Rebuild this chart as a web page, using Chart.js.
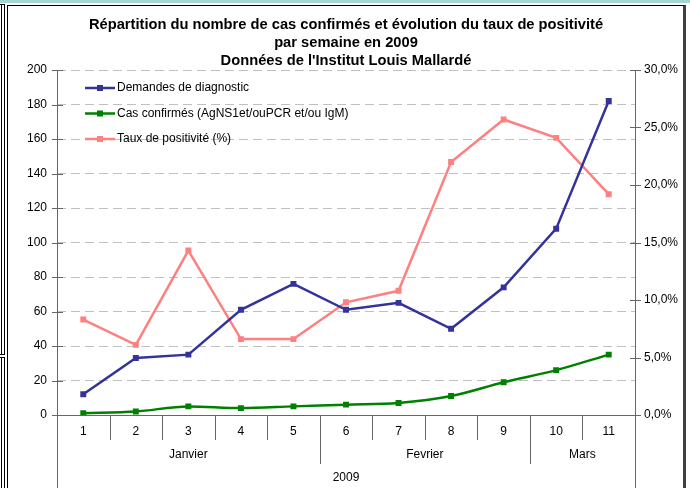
<!DOCTYPE html>
<html>
<head>
<meta charset="utf-8">
<script src="https://cdn.jsdelivr.net/npm/chart.js@4"></script>
<style>
  body { margin: 0; background: #fff; }
  #wrap { position: relative; width: 690px; height: 488px; overflow: hidden; }
  canvas { position: absolute; left: 0; top: 0; }
  .deco { position: absolute; box-sizing: border-box; pointer-events: none; }
</style>
</head>
<body>
<div id="wrap">
  <canvas id="myChart" width="690" height="488"></canvas>
  <div class="deco" style="left:0;top:0;width:690px;height:3px;background:#a6d4d4"></div>
  <div class="deco" style="left:-10px;top:4px;width:15px;height:351px;border:1px solid #000"></div>
  <div class="deco" style="left:1px;top:5px;width:1px;height:349px;background:#000"></div>
  <div class="deco" style="left:-10px;top:357px;width:15px;height:200px;border:1px solid #000"></div>
  <div class="deco" style="left:1px;top:358px;width:1px;height:200px;background:#000"></div>
  <div class="deco" style="left:7px;top:5px;width:679px;height:600px;border-left:1px solid #000;border-top:1px solid #000;border-right:3px solid #404040"></div>
</div>
<script>
var titleLines = [
    "Répartition du nombre de cas confirmés et évolution du taux de positivité",
    "par semaine en 2009",
    "Données de l'Institut Louis Mallardé"
];
var weeks = ['1','2','3','4','5','6','7','8','9','10','11'];
var monthNames = ['Janvier','Fevrier','Mars'];
var monthSpans = [5,4,2];
var yearLabel = '2009';

var demandes = [12,33,35,61,76,61,65,50,74,108,182];
var confirmes = [1,2,5,4,5,6,7,11,19,26,35];
var taux = [8.3,6.1,14.3,6.6,6.6,9.8,10.8,22.0,25.7,24.1,19.2];

var FONT = '"Liberation Sans", Arial, sans-serif';
var AXIS = '#666666';

var titlePlugin = {
    id: 'titleLines',
    afterDraw: function(chart) {
        var ctx = chart.ctx;
        ctx.save();
        ctx.fillStyle = '#000';
        ctx.font = 'bold 14.7px ' + FONT;
        ctx.textAlign = 'center';
        ctx.textBaseline = 'alphabetic';
        var ys = [29, 47, 65];
        titleLines.forEach(function(t, i) { ctx.fillText(t, 346, ys[i]); });
        ctx.restore();
    }
};

var axesPlugin = {
    id: 'excelAxes',
    beforeDatasetsDraw: function(chart) {
        var ctx = chart.ctx, a = chart.chartArea;
        var x = chart.scales.x, y = chart.scales.y, y1 = chart.scales.y1;
        var H = chart.height;
        ctx.save();
        ctx.strokeStyle = AXIS;
        ctx.lineWidth = 1;
        ctx.beginPath();
        // vertical axes run to bottom of the category table
        ctx.moveTo(a.left + 0.5, a.top); ctx.lineTo(a.left + 0.5, H);
        ctx.moveTo(a.right + 0.5, a.top); ctx.lineTo(a.right + 0.5, H);
        // zero line
        ctx.moveTo(a.left, a.bottom + 0.5); ctx.lineTo(a.right + 5, a.bottom + 0.5);
        // tick marks crossing the axes
        y.ticks.forEach(function(t) {
            var py = Math.round(y.getPixelForValue(t.value)) + 0.5;
            ctx.moveTo(a.left - 5, py); ctx.lineTo(a.left + 6, py);
        });
        y1.ticks.forEach(function(t) {
            var py = Math.round(y1.getPixelForValue(t.value)) + 0.5;
            ctx.moveTo(a.right - 5, py); ctx.lineTo(a.right + 6, py);
        });
        // category separators
        var half = (x.getPixelForValue(1) - x.getPixelForValue(0)) / 2;
        var bounds = [], acc = 0;
        monthSpans.forEach(function(s) { acc += s; bounds.push(acc); });
        for (var k = 1; k < weeks.length; k++) {
            var px = Math.round(x.getPixelForValue(k) - half) + 0.5;
            var isMonth = bounds.indexOf(k) >= 0;
            ctx.moveTo(px, a.bottom); ctx.lineTo(px, isMonth ? a.bottom + 49 : a.bottom + 25);
        }
        ctx.stroke();

        // labels of the category table
        ctx.fillStyle = '#000';
        ctx.font = '12px ' + FONT;
        ctx.textAlign = 'center';
        ctx.textBaseline = 'middle';
        weeks.forEach(function(w, i) {
            ctx.fillText(w, x.getPixelForValue(i), a.bottom + 17);
        });
        var start = 0;
        monthNames.forEach(function(m, i) {
            var l = x.getPixelForValue(start) - half;
            var r = x.getPixelForValue(start + monthSpans[i] - 1) + half;
            ctx.fillText(m, (l + r) / 2, a.bottom + 40);
            start += monthSpans[i];
        });
        ctx.fillText(yearLabel, (a.left + a.right) / 2, a.bottom + 63);
        ctx.restore();
    }
};

var legendPlugin = {
    id: 'innerLegend',
    afterDraw: function(chart) {
        var ctx = chart.ctx, a = chart.chartArea;
        ctx.save();
        ctx.font = '12px ' + FONT;
        ctx.textBaseline = 'middle';
        ctx.textAlign = 'left';
        chart.data.datasets.forEach(function(ds, i) {
            var ly = a.top + 18 + i * 25.5;
            var lx = a.left + 28;
            ctx.strokeStyle = ds.borderColor;
            ctx.lineWidth = 2.5;
            ctx.beginPath();
            ctx.moveTo(lx, ly); ctx.lineTo(lx + 30, ly);
            ctx.stroke();
            ctx.fillStyle = ds.borderColor;
            ctx.fillRect(lx + 12, ly - 3, 6, 6);
            ctx.fillStyle = '#000';
            ctx.fillText(ds.label, lx + 32, ly);
        });
        ctx.restore();
    }
};

window.onload = function() {
    var ctx = document.getElementById('myChart').getContext('2d');
    window.myChart = new Chart(ctx, {
        type: 'line',
        data: {
            labels: weeks,
            datasets: [
                {
                    label: 'Demandes de diagnostic',
                    data: demandes,
                    yAxisID: 'y',
                    borderColor: '#333399',
                    backgroundColor: '#333399',
                    borderWidth: 2.5,
                    pointStyle: 'rect',
                    pointRadius: 4.2,
                    pointBorderWidth: 0,
                    tension: 0
                },
                {
                    label: 'Cas confirmés (AgNS1et/ouPCR et/ou IgM)',
                    data: confirmes,
                    yAxisID: 'y',
                    borderColor: '#008000',
                    backgroundColor: '#008000',
                    borderWidth: 2.5,
                    pointStyle: 'rect',
                    pointRadius: 4.2,
                    pointBorderWidth: 0,
                    cubicInterpolationMode: 'monotone'
                },
                {
                    label: 'Taux de positivité (%)',
                    data: taux,
                    yAxisID: 'y1',
                    borderColor: '#ff8080',
                    backgroundColor: '#ff8080',
                    borderWidth: 2.5,
                    pointStyle: 'rect',
                    pointRadius: 4.2,
                    pointBorderWidth: 0,
                    tension: 0
                }
            ]
        },
        options: {
            responsive: false,
            animation: false,
            layout: { padding: { top: 70, left: 0, right: 0, bottom: 0 } },
            plugins: {
                legend: { display: false },
                title: { display: false },
                tooltip: { enabled: false }
            },
            scales: {
                x: {
                    type: 'category',
                    offset: true,
                    grid: { display: false },
                    border: { display: false },
                    ticks: { display: false },
                    afterFit: function(s) { s.height = 73; }
                },
                y: {
                    position: 'left',
                    min: 0, max: 200,
                    ticks: { stepSize: 20, color: '#000', padding: 10, font: { size: 12, family: FONT } },
                    grid: { color: '#c0c0c0', drawTicks: false },
                    border: { display: false, dash: [9, 5] },
                    afterFit: function(s) { s.width = 57; }
                },
                y1: {
                    position: 'right',
                    min: 0, max: 30,
                    ticks: {
                        stepSize: 5, color: '#000', padding: 9, font: { size: 12, family: FONT },
                        callback: function(v) { return v.toFixed(1).replace('.', ',') + '%'; }
                    },
                    grid: { display: false, drawTicks: false },
                    border: { display: false },
                    afterFit: function(s) { s.width = 55; }
                }
            }
        },
        plugins: [axesPlugin, legendPlugin, titlePlugin]
    });
};
</script>
</body>
</html>
